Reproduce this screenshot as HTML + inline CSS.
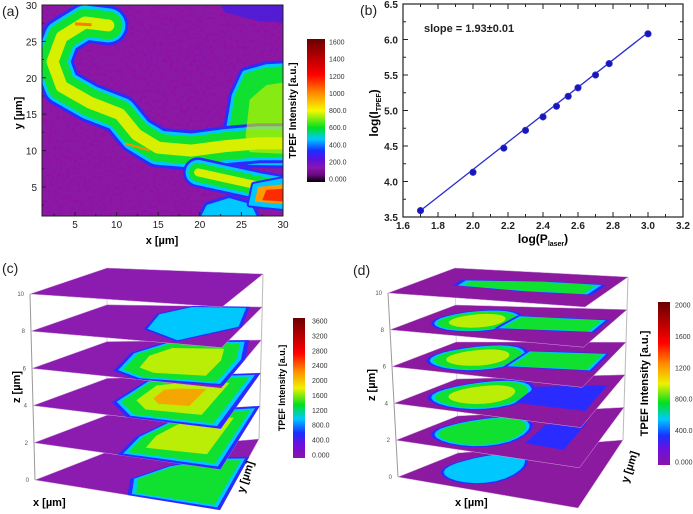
<!DOCTYPE html>
<html><head><meta charset="utf-8"><style>
html,body{margin:0;padding:0;background:#fff;}
svg{display:block;font-family:"Liberation Sans",sans-serif;}
</style></head><body>
<svg id="fig" width="693" height="514" viewBox="0 0 693 514">
<defs>
<linearGradient id="cmapA" x1="0" y1="1" x2="0" y2="0">
<stop offset="0" stop-color="#000"/><stop offset="0.05" stop-color="#6a0a80"/><stop offset="0.1" stop-color="#8a14b0"/><stop offset="0.16" stop-color="#5a10e0"/><stop offset="0.22" stop-color="#1830ff"/><stop offset="0.3" stop-color="#00c8ff"/><stop offset="0.38" stop-color="#00e020"/><stop offset="0.5" stop-color="#f8f800"/><stop offset="0.62" stop-color="#ff8c00"/><stop offset="0.75" stop-color="#ff0000"/><stop offset="1" stop-color="#6a0000"/>
</linearGradient>
<linearGradient id="cmapC" x1="0" y1="1" x2="0" y2="0">
<stop offset="0" stop-color="#8a14a8"/><stop offset="0.1" stop-color="#6a10e0"/><stop offset="0.18" stop-color="#1830ff"/><stop offset="0.28" stop-color="#00c8ff"/><stop offset="0.38" stop-color="#00e020"/><stop offset="0.5" stop-color="#f0f000"/><stop offset="0.62" stop-color="#ff8c00"/><stop offset="0.75" stop-color="#ff0000"/><stop offset="1" stop-color="#6a0000"/>
</linearGradient>
<clipPath id="clipA"><rect x="42" y="5" width="241" height="211"/></clipPath>
<filter id="noise" x="0" y="0" width="100%" height="100%"><feTurbulence type="fractalNoise" baseFrequency="0.3" numOctaves="2" result="n"/><feColorMatrix type="matrix" values="0 0 0 0 0.35  0 0 0 0 0  0 0 0 0 0.4  2.2 0 0 0 -1.0"/></filter>
</defs>
</svg>
<script>
const NS="http://www.w3.org/2000/svg";
const svg=document.getElementById('fig');
function mk(tag,attrs,parent){const e=document.createElementNS(NS,tag);for(const k in attrs)e.setAttribute(k,attrs[k]);(parent||svg).appendChild(e);return e;}
function txt(x,y,s,attrs,parent){const t=mk('text',Object.assign({x:x,y:y},attrs||{}),parent);t.textContent=s;return t;}

// ---------- Panel (b) data ----------
const bX=[1.7,2.0,2.176,2.3,2.4,2.477,2.544,2.6,2.7,2.778,3.0];
const bY=[3.59,4.13,4.47,4.72,4.91,5.06,5.2,5.32,5.5,5.66,6.08];
const bSlope=1.93, bIntercept=0.309;
const bXTicks=[1.6,1.8,2.0,2.2,2.4,2.6,2.8,3.0,3.2];
const bYTicks=[3.5,4.0,4.5,5.0,5.5,6.0,6.5];

// ---------- Panel (a) data (µm) ----------
const aMainBand=[[9,27.2],[6.2,27.6],[3.4,25.6],[2.3,22.2],[3.4,18.8],[6.8,16.6],[10.4,15],[12.4,12.2],[15,10.4],[19,10],[23,10.6],[27,11],[31,11]];
const aRightRegion=[[23.5,12],[24.3,17.5],[25.5,20.5],[28,21.3],[31,21.5],[31,8.5],[26,8.6],[23,9.5]];
const aLowerBand=[[19.8,7],[23,6.2],[27,5.2],[31,4.4]];
const aHotSpot=[[26,2.6],[26.5,5.3],[31,6.3],[31,2]];
const aBottomBlob=[[20,0],[21,2.3],[23.5,3.2],[26,2.4],[27,0]];
const aTopBlue=[[22,31],[23,29],[27,27.8],[31,27.5],[31,31]];
const aTicks=[5,10,15,20,25,30];
const aCbarLabels=['1600','1400','1200','1000','800.0','600.0','400.0','200.0','0.000'];
const cCbarLabels=['3600','3200','2800','2400','2000','1600','1200','800.0','400.0','0.000'];
const dCbarLabels=['2000','1600','1200','800.0','400.0','0.000'];
const zTicks=['0','2','4','6','8','10'];

const LEVEL_COLORS=['#2a2cff','#00c8ff','#10e030','#d8f000','#ff9a00','#ff2a00'];
const RING=[1,0.93,0.86,0.62,0.35,0.2];

// ===== Panel (a) =====
const xa=d=>75+(d-5)*8.32, ya=d=>187-(d-5)*7.28;
const gA=mk('g',{});
const gAc=mk('g',{'clip-path':'url(#clipA)'},gA);
mk('rect',{x:42,y:5,width:241,height:211,fill:'#8a1aa4'},gAc);
mk('rect',{x:42,y:5,width:241,height:211,filter:'url(#noise)',opacity:0.7},gAc);
function ptsA(arr){return arr.map(p=>xa(p[0]).toFixed(1)+','+ya(p[1]).toFixed(1)).join(' ');}
function bandA(arr,widths,name){
  widths.forEach((w,i)=>{const e=mk('polyline',{points:ptsA(arr),fill:'none',stroke:LEVEL_COLORS[i],'stroke-width':w,'stroke-linejoin':'round','stroke-linecap':'round'},gAc);
  
  });
}
function regionA(arr,widths,name){
  widths.forEach((w,i)=>{const e=mk('polygon',{points:ptsA(arr),fill:LEVEL_COLORS[i],stroke:LEVEL_COLORS[i],'stroke-width':w,'stroke-linejoin':'round'},gAc);
  
  });
}
mk('polygon',{points:ptsA(aTopBlue),fill:'#3a20e8',opacity:0.7},gAc);
regionA(aBottomBlob,[10,4],'a-bottom-blob');
regionA(aRightRegion,[14,8,2],'a-right-region');
bandA(aMainBand,[40,34,28,12],'a-main-band');
bandA(aLowerBand,[30,25,19,8],'a-lower-band');
mk('polygon',{points:ptsA([[25.5,12],[26,17],[28,19],[31,19.5],[31,9.5],[26,9.8]]),fill:'#d8f000',opacity:0.6},gAc);
regionA(aHotSpot,[6,2],'a-hotspot');
mk('polygon',{points:ptsA([[26.6,3],[27,5],[31,5.5],[31,2.6]]),fill:'#ff9a00'},gAc);
mk('polygon',{points:ptsA([[27.5,3.2],[28,4.6],[30.5,4.8],[30.5,3]]),fill:'#ff2a00'},gAc);
mk('polyline',{points:ptsA([[5,27.4],[7,27.3]]),stroke:'#ff7a00','stroke-width':3,fill:'none'},gAc);
mk('polyline',{points:ptsA([[11,11],[14,10]]),stroke:'#ff8a00','stroke-width':2,fill:'none'},gAc);
mk('rect',{x:42,y:5,width:241,height:211,fill:'none',stroke:'#222','stroke-width':1,});
aTicks.forEach(t=>{
  mk('line',{x1:xa(t),y1:216,x2:xa(t),y2:212,stroke:'#222'});
  mk('line',{x1:42,y1:ya(t),x2:46,y2:ya(t),stroke:'#222'});
  const tx=txt(xa(t),228,String(t),{'font-size':10,'text-anchor':'middle',fill:'#222'});
  
  
  const ty=txt(37,ya(t)+4,String(t),{'font-size':10,'text-anchor':'end',fill:'#222'});
  
  
  mk('line',{x1:xa(t-2.5),y1:216,x2:xa(t-2.5),y2:214,stroke:'#222'});
  mk('line',{x1:42,y1:ya(t-2.5),x2:44,y2:ya(t-2.5),stroke:'#222'});
});
txt(162,244,'x [µm]',{'font-size':11,'font-weight':'bold','text-anchor':'middle',});
txt(0,0,'y [µm]',{'font-size':11,'font-weight':'bold','text-anchor':'middle',transform:'translate(22,113) rotate(-90)',});
txt(2,16,'(a)',{'font-size':14,fill:'#222',});

function colorbar(x,y,w,h,grad,labels,lx,tx,name){
  const g=mk('g',{});
  mk('rect',{x:x,y:y,width:w,height:h,fill:'url(#'+grad+')'},g);
  labels.forEach((l,i)=>{const yy=y+3+i*(h-6)/(labels.length-1);
    const t=txt(lx,yy+2.5,l,{'font-size':7,fill:'#333'},g);
    
    });
  txt(0,0,'TPEF Intensity [a.u.]',{'font-size':tx[2],'font-weight':'bold','text-anchor':'middle',transform:'translate('+tx[0]+','+(y+h/2)+') rotate(-90)',},g);
}
colorbar(307,39,18,143,'cmapA',aCbarLabels,329,[296,0,10],'a-colorbar');

// ===== Panel (b) =====
const xb=v=>403+(v-1.6)*175, yb=v=>217-(v-3.5)*71;
const gB=mk('g',{});
mk('rect',{x:403,y:4,width:280,height:213,fill:'none',stroke:'#222','stroke-width':1.2},gB);
bXTicks.forEach(t=>{mk('line',{x1:xb(t),y1:217,x2:xb(t),y2:212,stroke:'#222'},gB);mk('line',{x1:xb(t),y1:4,x2:xb(t),y2:9,stroke:'#222'},gB);
  if(t<3.2){mk('line',{x1:xb(t+0.1),y1:217,x2:xb(t+0.1),y2:214,stroke:'#222'},gB);mk('line',{x1:xb(t+0.1),y1:4,x2:xb(t+0.1),y2:7,stroke:'#222'},gB);}
  const e=txt(xb(t),229,t.toFixed(1),{'font-size':10,'font-weight':'bold','text-anchor':'middle',fill:'#222'},gB);
  
  });
bYTicks.forEach(t=>{mk('line',{x1:403,y1:yb(t),x2:408,y2:yb(t),stroke:'#222'},gB);mk('line',{x1:683,y1:yb(t),x2:678,y2:yb(t),stroke:'#222'},gB);
  if(t<6.5){mk('line',{x1:403,y1:yb(t+0.25),x2:406,y2:yb(t+0.25),stroke:'#222'},gB);mk('line',{x1:683,y1:yb(t+0.25),x2:680,y2:yb(t+0.25),stroke:'#222'},gB);}
  const e=txt(398,yb(t)+4,t.toFixed(1),{'font-size':10,'font-weight':'bold','text-anchor':'end',fill:'#222'},gB);
  
  });
const fit=mk('line',{x1:xb(bX[0]),y1:yb(bIntercept+bSlope*bX[0]),x2:xb(bX[bX.length-1]),y2:yb(bIntercept+bSlope*bX[bX.length-1]),stroke:'#2a2ad0','stroke-width':1.3},gB);


bX.forEach((x,i)=>{const c=mk('circle',{cx:xb(x),cy:yb(bY[i]),r:3.3,fill:'#1818b8',stroke:'#4040e0','stroke-width':0.6},gB);
  
  });
txt(424,32,'slope = 1.93±0.01',{'font-size':11,'font-weight':'bold',fill:'#222',});
const xt=txt(543,243,'log(P',{'font-size':12,'font-weight':'bold','text-anchor':'middle',});
xt.innerHTML='log(P<tspan font-size="7" dy="3">laser</tspan><tspan dy="-3">)</tspan>';
const yt=txt(0,0,'',{'font-size':12,'font-weight':'bold','text-anchor':'middle',transform:'translate(378,113) rotate(-90)',});
yt.innerHTML='log(I<tspan font-size="7" dy="3">TPEF</tspan><tspan dy="-3">)</tspan>';
txt(360,15,'(b)',{'font-size':14,fill:'#222',});

// ===== 3D stacks =====
const cBlobs=[
  [{pts:[[0.5,0],[0.42,0.3],[0.55,0.6],[0.8,0.75],[1,0.75],[1,0]],lvl:2}],
  [{pts:[[0.45,0],[0.42,0.4],[0.5,0.8],[0.75,1],[1,1],[1,0]],lvl:3}],
  [{pts:[[0.5,0],[0.32,0.3],[0.3,0.9],[0.5,1],[1,1],[1,0]],lvl:4}],
  [{pts:[[0.55,0],[0.38,0.15],[0.3,0.65],[0.4,1],[0.92,1],[1,0.6],[1,0.05]],lvl:3}],
  [{pts:[[0.75,0.05],[0.5,0.3],[0.42,0.75],[0.55,1],[0.92,1],[1,0.5]],lvl:1}],
  []
];
const dBlobs=[
  [{ell:[0.33,0.5,0.22,0.4],lvl:1}],
  [{ell:[0.32,0.5,0.26,0.42],lvl:2},{pts:[[0.62,0.3],[0.62,0.7],[0.85,0.75],[0.85,0.25]],lvl:0}],
  [{ell:[0.32,0.5,0.27,0.44],lvl:3},{pts:[[0.55,0.35],[0.55,0.75],[0.95,0.8],[0.95,0.3]],lvl:0}],
  [{ell:[0.3,0.5,0.25,0.42],lvl:3},{pts:[[0.5,0.3],[0.5,0.75],[0.97,0.75],[0.97,0.35]],lvl:2}],
  [{ell:[0.3,0.5,0.22,0.38],lvl:3},{pts:[[0.45,0.3],[0.45,0.72],[0.97,0.72],[0.97,0.38]],lvl:2}],
  [{pts:[[0.2,0.4],[0.18,0.6],[0.6,0.72],[0.95,0.72],[0.95,0.38],[0.6,0.35]],lvl:2}]
];
function drawStack(top,bot,blobs,purple,name,zx){
  const g=mk('g',{});
  const lerp=(a,b,t)=>[a[0]+(b[0]-a[0])*t,a[1]+(b[1]-a[1])*t];
  const quads=[];
  for(let k=0;k<6;k++){const t=1-k/5;quads.push(['L','F','R','B'].map(c=>lerp(top[c],bot[c],t)));}
  mk('line',{x1:bot.L[0],y1:bot.L[1],x2:top.L[0],y2:top.L[1],stroke:'#999','stroke-width':1},g);
  mk('line',{x1:bot.R[0],y1:bot.R[1],x2:top.R[0],y2:top.R[1],stroke:'#bbb','stroke-width':1},g);
  mk('line',{x1:bot.B[0],y1:bot.B[1],x2:top.B[0],y2:top.B[1],stroke:'#ccc','stroke-width':0.8},g);
  quads.forEach((q,k)=>{
    const [L,F,R,B]=q;
    const map=(u,v)=>[L[0]*(1-u)*(1-v)+F[0]*u*(1-v)+R[0]*u*v+B[0]*(1-u)*v, L[1]*(1-u)*(1-v)+F[1]*u*(1-v)+R[1]*u*v+B[1]*(1-u)*v];
    const sl=mk('polygon',{points:q.map(p=>p.join(',')).join(' '),fill:purple,stroke:'#c9a0d8','stroke-width':0.5},g);
    
    
    blobs[k].forEach(b=>{
      let pts=b.pts;
      if(b.ell){pts=[];for(let a=0;a<24;a++){const th=a/24*2*Math.PI;pts.push([b.ell[0]+b.ell[2]*Math.cos(th),b.ell[1]+b.ell[3]*Math.sin(th)]);}}
      const cu=pts.reduce((s,p)=>s+p[0],0)/pts.length, cv=pts.reduce((s,p)=>s+p[1],0)/pts.length;
      for(let l=0;l<=b.lvl;l++){
        const f=RING[l];
        const pp=pts.map(p=>{let u=cu+(p[0]-cu)*f,v=cv+(p[1]-cv)*f;u=Math.max(0,Math.min(1,u));v=Math.max(0,Math.min(1,v));return map(u,v).map(n=>n.toFixed(1)).join(',');}).join(' ');
        const e=mk('polygon',{points:pp,fill:LEVEL_COLORS[l],opacity:l>=3?0.85:1},g);
        
        
      }
    });
    const zl=txt(L[0]-6,L[1]+2,zTicks[k],{'font-size':6,fill:'#555','text-anchor':'end'},g);
    
    
  });
  txt(0,0,'z [µm]',{'font-size':11,'font-weight':'bold','text-anchor':'middle',transform:'translate('+zx+','+((top.L[1]+bot.L[1])/2)+') rotate(-90)',},g);
}
drawStack({L:[30,294],F:[222,307],R:[263,274],B:[107,268]},{L:[35,480],F:[220,510],R:[259,439],B:[107,452]},cBlobs,'#8c1cb0','panel-c-stack',20);
txt(33,506,'x [µm]',{'font-size':11,'font-weight':'bold',});
txt(0,0,'y [µm]',{'font-size':11,'font-weight':'bold','text-anchor':'middle',transform:'translate(249,478) rotate(-72)',});
txt(2,273,'(c)',{'font-size':14,fill:'#222',});
colorbar(293,318,12,140,'cmapC',cCbarLabels,312,[285,0,9],'c-colorbar');

drawStack({L:[388,293],F:[585,307],R:[628,277],B:[455,268]},{L:[398,477],F:[578,508],R:[623,440],B:[458,453]},dBlobs,'#8c1aa0','panel-d-stack',375);
txt(455,506,'x [µm]',{'font-size':11,'font-weight':'bold',});
txt(0,0,'y [µm]',{'font-size':11,'font-weight':'bold','text-anchor':'middle',transform:'translate(633,468) rotate(-72)',});
txt(353,275,'(d)',{'font-size':14,fill:'#222',});
colorbar(658,302,12,163,'cmapC',dCbarLabels,675,[648,0,11],'d-colorbar');
</script>
</body></html>
